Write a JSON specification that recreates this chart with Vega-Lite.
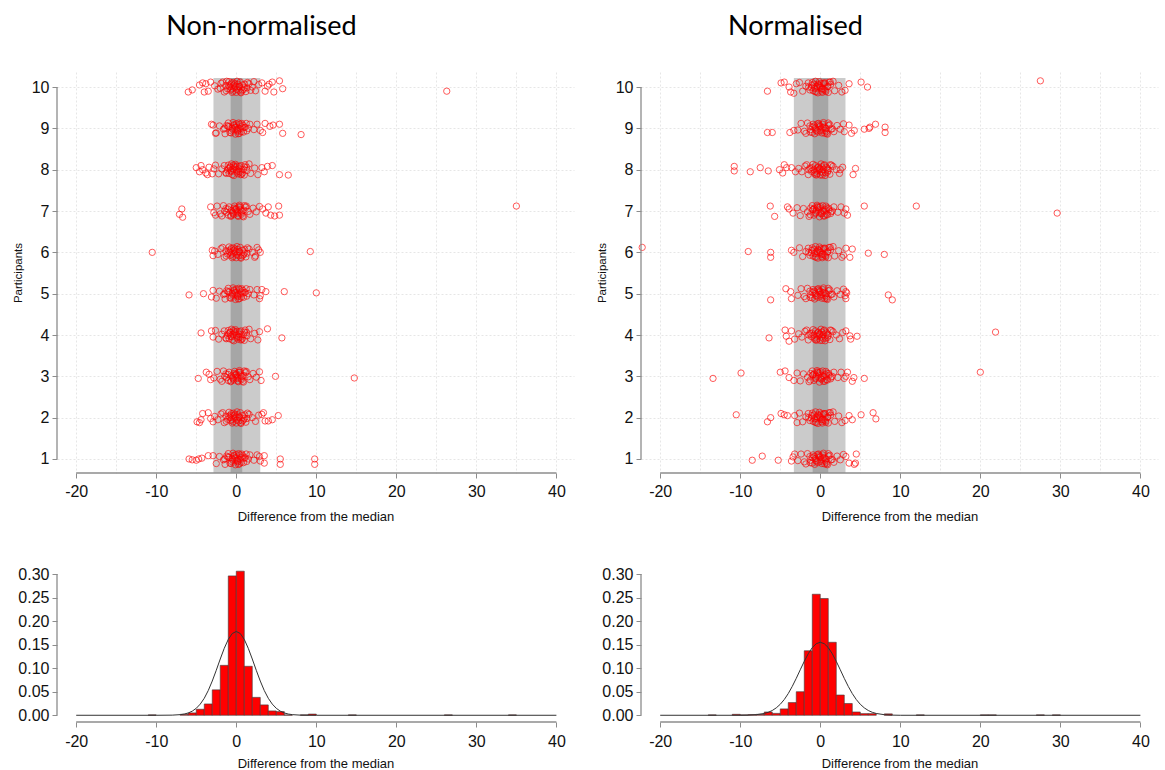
{
  "$schema": "https://vega.github.io/schema/vega-lite/v6.json",
  "background": "white",
  "padding": {"left": 12, "top": 13, "right": 5, "bottom": 0},
  "columns": 2,
  "spacing": {"row": 43, "column": 22},
  "align": "each",
  "config": {
    "view": {"stroke": null},
    "locale": {"number": {"decimal": ".", "thousands": ",", "grouping": [3], "currency": ["$", ""], "minus": "-"}},
    "axis": {
      "domain": false,
      "labelFont": "Liberation Sans",
      "labelFontSize": 16,
      "labelColor": "#111111",
      "labelPadding": 3,
      "labelOverlap": false,
      "tickColor": "#8c8c8c",
      "tickSize": 5,
      "titleFont": "Liberation Sans",
      "titleFontSize": 13,
      "titleFontWeight": "normal",
      "titleColor": "#111111"
    },
    "title": {"font": "Lato", "fontSize": 27, "fontWeight": "normal", "color": "#000000"}
  },
  "datasets": {
    "bandsNon": [{"lo": -2.85, "hi": 3.0, "shade": "outer"}, {"lo": -0.7, "hi": 0.75, "shade": "inner"}],
    "bandsNorm": [{"lo": -3.3, "hi": 3.15, "shade": "outer"}, {"lo": -0.95, "hi": 1.0, "shade": "inner"}],
    "nonnorm": [
      {"x":-0.1,"y":10.02},{"x":0.3,"y":9.92},{"x":-0.6,"y":10.1},{"x":0.8,"y":10.05},{"x":-1.1,"y":9.96},{"x":1.2,"y":9.89},{"x":0,"y":9.87},{"x":-0.4,"y":9.9},{"x":0.5,"y":10.12},{"x":-0.9,"y":10.13},{"x":1.6,"y":10.08},{"x":-1.5,"y":9.88},{"x":0.2,"y":10.07},{"x":-0.2,"y":9.98},{"x":1,"y":9.98},{"x":-1.3,"y":10.04},{"x":2,"y":10},{"x":-1.9,"y":10.09},{"x":0.6,"y":9.86},{"x":-0.7,"y":9.93},{"x":2.4,"y":9.91},{"x":-2.3,"y":9.95},{"x":0.1,"y":10.14},{"x":-0.3,"y":10.05},{"x":1.4,"y":10.11},{"x":-1.7,"y":10.12},{"x":2.8,"y":10.06},{"x":-2.7,"y":10.03},{"x":0.9,"y":9.94},{"x":-0.8,"y":10},{"x":0.4,"y":10.01},{"x":-0.5,"y":9.87},
      {"x":-6,"y":9.88},{"x":-5.5,"y":9.93},{"x":-4.6,"y":10.05},{"x":-4.2,"y":10.1},{"x":-3.8,"y":10.08},{"x":-3.5,"y":9.9},{"x":-3.2,"y":10.12},{"x":-4,"y":9.88},{"x":3.2,"y":10.1},{"x":3.6,"y":9.9},{"x":4.1,"y":10.07},{"x":4.5,"y":10.12},{"x":5.4,"y":10.15},{"x":5.8,"y":9.96},{"x":4.7,"y":9.88},{"x":3.9,"y":10.02},{"x":26.3,"y":9.9},{"x":-2,"y":9.97},{"x":1.8,"y":9.92},{"x":-1.2,"y":10.14},{"x":2.2,"y":10.13},
      {"x":-0.15,"y":10.08},{"x":0.35,"y":10.02},{"x":-0.55,"y":9.96},{"x":0.75,"y":9.92},{"x":-0.95,"y":10.03},{"x":1.05,"y":10.07},{"x":0.05,"y":9.94},{"x":-0.35,"y":10.11},{"x":0.55,"y":9.88},{"x":-1.25,"y":9.91},{"x":1.35,"y":9.98},{"x":-0.75,"y":10.06},

      {"x":0.1,"y":8.97},{"x":-0.3,"y":9.09},{"x":0.7,"y":9.12},{"x":-0.8,"y":8.9},{"x":1.1,"y":9.03},{"x":-1.2,"y":9.07},{"x":0.4,"y":8.88},{"x":-0.5,"y":9},{"x":0,"y":9.11},{"x":0.9,"y":8.91},{"x":-1.6,"y":8.98},{"x":1.7,"y":9.1},{"x":-0.1,"y":8.86},{"x":0.6,"y":9.04},{"x":-1,"y":9.13},{"x":1.3,"y":8.94},{"x":-2.1,"y":9.06},{"x":2.2,"y":8.97},{"x":-0.6,"y":8.94},{"x":0.3,"y":9.13},{"x":-2.5,"y":8.89},{"x":2.6,"y":9.1},{"x":0.2,"y":8.93},{"x":-0.2,"y":9.03},{"x":1.5,"y":9},{"x":-1.4,"y":8.87},{"x":-2.9,"y":9.08},{"x":3,"y":8.95},{"x":0.8,"y":9.08},{"x":-0.9,"y":9.04},{"x":0.5,"y":8.99},{"x":-0.4,"y":9.14},
      {"x":-3.1,"y":9.1},{"x":3.6,"y":9.12},{"x":4.6,"y":9.08},{"x":5.4,"y":9.1},{"x":5.8,"y":8.88},{"x":8.1,"y":8.85},{"x":4.2,"y":9.05},{"x":3.3,"y":8.9},{"x":-2.6,"y":8.88},
      {"x":0.15,"y":8.95},{"x":-0.25,"y":9.07},{"x":0.45,"y":9.1},{"x":-0.65,"y":8.89},{"x":0.95,"y":9.02},{"x":-1.05,"y":9.05},{"x":-0.05,"y":9.03},{"x":0.65,"y":8.92},{"x":-0.45,"y":8.97},{"x":1.25,"y":9.12},{"x":-1.45,"y":9},{"x":0.25,"y":8.87},

      {"x":-0.2,"y":8.05},{"x":0.2,"y":7.9},{"x":-0.7,"y":7.97},{"x":0.6,"y":8.1},{"x":-1,"y":8.11},{"x":1,"y":7.87},{"x":0,"y":8},{"x":-0.5,"y":7.88},{"x":0.4,"y":8.08},{"x":-1.3,"y":7.93},{"x":1.3,"y":8.06},{"x":-0.1,"y":8.13},{"x":0.9,"y":8.01},{"x":-0.8,"y":8.07},{"x":1.8,"y":7.91},{"x":-1.8,"y":8.02},{"x":0.3,"y":7.96},{"x":-0.3,"y":7.86},{"x":0.7,"y":7.89},{"x":-0.6,"y":8.14},{"x":2.3,"y":8.04},{"x":-2.2,"y":7.9},{"x":1.1,"y":8.12},{"x":-1.1,"y":7.99},{"x":2.7,"y":7.88},{"x":-2.6,"y":8.11},{"x":0.1,"y":8.09},{"x":-0.4,"y":8.02},{"x":1.6,"y":8.14},{"x":-1.5,"y":8.1},{"x":0.5,"y":7.94},{"x":-0.9,"y":7.91},
      {"x":-5,"y":8.05},{"x":-4.6,"y":7.95},{"x":-4.2,"y":8},{"x":-3.8,"y":7.92},{"x":-3.4,"y":8.06},{"x":-3,"y":7.9},{"x":-4.4,"y":8.1},{"x":-3.6,"y":7.88},{"x":3.2,"y":8.05},{"x":3.9,"y":8.08},{"x":4.5,"y":8.1},{"x":5.4,"y":7.88},{"x":6.5,"y":7.87},{"x":3.5,"y":7.95},{"x":-2.8,"y":8.02},
      {"x":-0.15,"y":8.08},{"x":0.35,"y":8.02},{"x":-0.55,"y":7.96},{"x":0.75,"y":7.92},{"x":-0.95,"y":8.03},{"x":1.05,"y":8.07},{"x":0.05,"y":7.94},{"x":-0.35,"y":8.11},{"x":0.55,"y":7.88},{"x":-1.25,"y":7.91},{"x":1.35,"y":7.98},{"x":-0.75,"y":8.06},

      {"x":0,"y":7.06},{"x":-0.4,"y":6.94},{"x":0.5,"y":7.03},{"x":-0.9,"y":7.1},{"x":0.8,"y":6.88},{"x":-1.2,"y":6.97},{"x":1.2,"y":7.09},{"x":0.2,"y":6.89},{"x":-0.2,"y":7.12},{"x":-0.6,"y":7.01},{"x":0.6,"y":6.95},{"x":1.5,"y":6.99},{"x":-1.6,"y":7.13},{"x":0.3,"y":7.1},{"x":-0.7,"y":6.87},{"x":1,"y":7.13},{"x":-1,"y":6.9},{"x":2.1,"y":7.07},{"x":-2,"y":6.93},{"x":0.1,"y":6.98},{"x":-0.1,"y":7.04},{"x":0.9,"y":6.86},{"x":-1.3,"y":7.06},{"x":2.5,"y":6.98},{"x":-2.4,"y":7.12},{"x":1.7,"y":6.92},{"x":-1.8,"y":6.88},{"x":0.4,"y":7.14},{"x":-0.3,"y":6.91},{"x":2.9,"y":7.11},{"x":-2.8,"y":6.96},{"x":0.7,"y":7},
      {"x":-6.8,"y":7.05},{"x":-7.1,"y":6.92},{"x":-6.7,"y":6.85},{"x":-3.2,"y":7.1},{"x":-2.6,"y":6.9},{"x":3.3,"y":7.05},{"x":3.7,"y":6.95},{"x":4,"y":7.1},{"x":4.3,"y":6.9},{"x":5.3,"y":7.12},{"x":5.4,"y":6.9},{"x":4.8,"y":6.88},{"x":35,"y":7.12},
      {"x":0.15,"y":6.95},{"x":-0.25,"y":7.07},{"x":0.45,"y":7.1},{"x":-0.65,"y":6.89},{"x":0.95,"y":7.02},{"x":-1.05,"y":7.05},{"x":-0.05,"y":7.03},{"x":0.65,"y":6.92},{"x":-0.45,"y":6.97},{"x":1.25,"y":7.12},{"x":-1.45,"y":7},{"x":0.25,"y":6.87},

      {"x":-0.1,"y":6.02},{"x":0.3,"y":5.92},{"x":-0.6,"y":6.1},{"x":0.8,"y":6.05},{"x":-1.1,"y":5.96},{"x":1.2,"y":5.89},{"x":0,"y":5.87},{"x":-0.4,"y":5.9},{"x":0.5,"y":6.12},{"x":-0.9,"y":6.13},{"x":1.6,"y":6.08},{"x":-1.5,"y":5.88},{"x":0.2,"y":6.07},{"x":-0.2,"y":5.98},{"x":1,"y":5.98},{"x":-1.3,"y":6.04},{"x":2,"y":6},{"x":-1.9,"y":6.09},{"x":0.6,"y":5.86},{"x":-0.7,"y":5.93},{"x":2.4,"y":5.91},{"x":-2.3,"y":5.95},{"x":0.1,"y":6.14},{"x":-0.3,"y":6.05},{"x":1.4,"y":6.11},{"x":-1.7,"y":6.12},{"x":2.8,"y":6.06},{"x":-2.7,"y":6.03},{"x":0.9,"y":5.94},{"x":-0.8,"y":6},{"x":0.4,"y":6.01},{"x":-0.5,"y":5.87},
      {"x":-10.5,"y":6},{"x":-3,"y":6.05},{"x":-2.9,"y":5.92},{"x":2.6,"y":6.12},{"x":3,"y":6},{"x":2.3,"y":5.88},{"x":9.25,"y":6.02},
      {"x":-0.15,"y":6.08},{"x":0.35,"y":6.02},{"x":-0.55,"y":5.96},{"x":0.75,"y":5.92},{"x":-0.95,"y":6.03},{"x":1.05,"y":6.07},{"x":0.05,"y":5.94},{"x":-0.35,"y":6.11},{"x":0.55,"y":5.88},{"x":-1.25,"y":5.91},{"x":1.35,"y":5.98},{"x":-0.75,"y":6.06},

      {"x":0.1,"y":4.97},{"x":-0.3,"y":5.09},{"x":0.7,"y":5.12},{"x":-0.8,"y":4.9},{"x":1.1,"y":5.03},{"x":-1.2,"y":5.07},{"x":0.4,"y":4.88},{"x":-0.5,"y":5},{"x":0,"y":5.11},{"x":0.9,"y":4.91},{"x":-1.6,"y":4.98},{"x":1.7,"y":5.1},{"x":-0.1,"y":4.86},{"x":0.6,"y":5.04},{"x":-1,"y":5.13},{"x":1.3,"y":4.94},{"x":-2.1,"y":5.06},{"x":2.2,"y":4.97},{"x":-0.6,"y":4.94},{"x":0.3,"y":5.13},{"x":-2.5,"y":4.89},{"x":2.6,"y":5.1},{"x":0.2,"y":4.93},{"x":-0.2,"y":5.03},{"x":1.5,"y":5},{"x":-1.4,"y":4.87},{"x":-2.9,"y":5.08},{"x":3,"y":4.95},{"x":0.8,"y":5.08},{"x":-0.9,"y":5.04},{"x":0.5,"y":4.99},{"x":-0.4,"y":5.14},
      {"x":-5.9,"y":4.97},{"x":-4.1,"y":5},{"x":-3.1,"y":4.92},{"x":3.2,"y":5.1},{"x":3.7,"y":5.05},{"x":6,"y":5.05},{"x":10,"y":5.02},{"x":2.9,"y":4.88},
      {"x":0.15,"y":4.95},{"x":-0.25,"y":5.07},{"x":0.45,"y":5.1},{"x":-0.65,"y":4.89},{"x":0.95,"y":5.02},{"x":-1.05,"y":5.05},{"x":-0.05,"y":5.03},{"x":0.65,"y":4.92},{"x":-0.45,"y":4.97},{"x":1.25,"y":5.12},{"x":-1.45,"y":5},{"x":0.25,"y":4.87},

      {"x":-0.2,"y":4.05},{"x":0.2,"y":3.9},{"x":-0.7,"y":3.97},{"x":0.6,"y":4.1},{"x":-1,"y":4.11},{"x":1,"y":3.87},{"x":0,"y":4},{"x":-0.5,"y":3.88},{"x":0.4,"y":4.08},{"x":-1.3,"y":3.93},{"x":1.3,"y":4.06},{"x":-0.1,"y":4.13},{"x":0.9,"y":4.01},{"x":-0.8,"y":4.07},{"x":1.8,"y":3.91},{"x":-1.8,"y":4.02},{"x":0.3,"y":3.96},{"x":-0.3,"y":3.86},{"x":0.7,"y":3.89},{"x":-0.6,"y":4.14},{"x":2.3,"y":4.04},{"x":-2.2,"y":3.9},{"x":1.1,"y":4.12},{"x":-1.1,"y":3.99},{"x":2.7,"y":3.88},{"x":-2.6,"y":4.11},{"x":0.1,"y":4.09},{"x":-0.4,"y":4.02},{"x":1.6,"y":4.14},{"x":-1.5,"y":4.1},{"x":0.5,"y":3.94},{"x":-0.9,"y":3.91},
      {"x":-4.4,"y":4.05},{"x":-2.9,"y":3.95},{"x":3.9,"y":4.15},{"x":5.7,"y":3.93},{"x":2.9,"y":4.08},{"x":-3.1,"y":4.1},
      {"x":-0.15,"y":4.08},{"x":0.35,"y":4.02},{"x":-0.55,"y":3.96},{"x":0.75,"y":3.92},{"x":-0.95,"y":4.03},{"x":1.05,"y":4.07},{"x":0.05,"y":3.94},{"x":-0.35,"y":4.11},{"x":0.55,"y":3.88},{"x":-1.25,"y":3.91},{"x":1.35,"y":3.98},{"x":-0.75,"y":4.06},

      {"x":0,"y":3.06},{"x":-0.4,"y":2.94},{"x":0.5,"y":3.03},{"x":-0.9,"y":3.1},{"x":0.8,"y":2.88},{"x":-1.2,"y":2.97},{"x":1.2,"y":3.09},{"x":0.2,"y":2.89},{"x":-0.2,"y":3.12},{"x":-0.6,"y":3.01},{"x":0.6,"y":2.95},{"x":1.5,"y":2.99},{"x":-1.6,"y":3.13},{"x":0.3,"y":3.1},{"x":-0.7,"y":2.87},{"x":1,"y":3.13},{"x":-1,"y":2.9},{"x":2.1,"y":3.07},{"x":-2,"y":2.93},{"x":0.1,"y":2.98},{"x":-0.1,"y":3.04},{"x":0.9,"y":2.86},{"x":-1.3,"y":3.06},{"x":2.5,"y":2.98},{"x":-2.4,"y":3.12},{"x":1.7,"y":2.92},{"x":-1.8,"y":2.88},{"x":0.4,"y":3.14},{"x":-0.3,"y":2.91},{"x":2.9,"y":3.11},{"x":-2.8,"y":2.96},{"x":0.7,"y":3},
      {"x":-4.75,"y":2.95},{"x":-3.75,"y":3.1},{"x":-3.2,"y":2.92},{"x":-3.4,"y":3.05},{"x":3.1,"y":2.9},{"x":4.9,"y":3},{"x":14.75,"y":2.96},
      {"x":0.15,"y":2.95},{"x":-0.25,"y":3.07},{"x":0.45,"y":3.1},{"x":-0.65,"y":2.89},{"x":0.95,"y":3.02},{"x":-1.05,"y":3.05},{"x":-0.05,"y":3.03},{"x":0.65,"y":2.92},{"x":-0.45,"y":2.97},{"x":1.25,"y":3.12},{"x":-1.45,"y":3},{"x":0.25,"y":2.87},

      {"x":-0.1,"y":2.02},{"x":0.3,"y":1.92},{"x":-0.6,"y":2.1},{"x":0.8,"y":2.05},{"x":-1.1,"y":1.96},{"x":1.2,"y":1.89},{"x":0,"y":1.87},{"x":-0.4,"y":1.9},{"x":0.5,"y":2.12},{"x":-0.9,"y":2.13},{"x":1.6,"y":2.08},{"x":-1.5,"y":1.88},{"x":0.2,"y":2.07},{"x":-0.2,"y":1.98},{"x":1,"y":1.98},{"x":-1.3,"y":2.04},{"x":2,"y":2},{"x":-1.9,"y":2.09},{"x":0.6,"y":1.86},{"x":-0.7,"y":1.93},{"x":2.4,"y":1.91},{"x":-2.3,"y":1.95},{"x":0.1,"y":2.14},{"x":-0.3,"y":2.05},{"x":1.4,"y":2.11},{"x":-1.7,"y":2.12},{"x":2.8,"y":2.06},{"x":-2.7,"y":2.03},{"x":0.9,"y":1.94},{"x":-0.8,"y":2},{"x":0.4,"y":2.01},{"x":-0.5,"y":1.87},
      {"x":-4.9,"y":1.9},{"x":-4.4,"y":1.95},{"x":-4.6,"y":1.88},{"x":-4.2,"y":2.1},{"x":-3.5,"y":2.12},{"x":-3.2,"y":1.98},{"x":3.2,"y":2.08},{"x":3.6,"y":1.92},{"x":4,"y":1.92},{"x":4.5,"y":1.95},{"x":5.25,"y":2.05},{"x":3.4,"y":2.12},{"x":-2.9,"y":1.9},
      {"x":-0.15,"y":2.08},{"x":0.35,"y":2.02},{"x":-0.55,"y":1.96},{"x":0.75,"y":1.92},{"x":-0.95,"y":2.03},{"x":1.05,"y":2.07},{"x":0.05,"y":1.94},{"x":-0.35,"y":2.11},{"x":0.55,"y":1.88},{"x":-1.25,"y":1.91},{"x":1.35,"y":1.98},{"x":-0.75,"y":2.06},

      {"x":0.1,"y":0.97},{"x":-0.3,"y":1.09},{"x":0.7,"y":1.12},{"x":-0.8,"y":0.9},{"x":1.1,"y":1.03},{"x":-1.2,"y":1.07},{"x":0.4,"y":0.88},{"x":-0.5,"y":1},{"x":0,"y":1.11},{"x":0.9,"y":0.91},{"x":-1.6,"y":0.98},{"x":1.7,"y":1.1},{"x":-0.1,"y":0.86},{"x":0.6,"y":1.04},{"x":-1,"y":1.13},{"x":1.3,"y":0.94},{"x":-2.1,"y":1.06},{"x":2.2,"y":0.97},{"x":-0.6,"y":0.94},{"x":0.3,"y":1.13},{"x":-2.5,"y":0.89},{"x":2.6,"y":1.1},{"x":0.2,"y":0.93},{"x":-0.2,"y":1.03},{"x":1.5,"y":1},{"x":-1.4,"y":0.87},{"x":-2.9,"y":1.08},{"x":3,"y":0.95},{"x":0.8,"y":1.08},{"x":-0.9,"y":1.04},{"x":0.5,"y":0.99},{"x":-0.4,"y":1.14},
      {"x":-5.9,"y":1},{"x":-5.5,"y":0.98},{"x":-5,"y":0.97},{"x":-4.7,"y":1},{"x":-4.3,"y":1.02},{"x":-3.5,"y":1.08},{"x":3.5,"y":1.08},{"x":3.5,"y":0.9},{"x":5.5,"y":1},{"x":5.5,"y":0.87},{"x":9.8,"y":1},{"x":9.8,"y":0.87},{"x":2.9,"y":1.06},
      {"x":0.15,"y":0.95},{"x":-0.25,"y":1.07},{"x":0.45,"y":1.1},{"x":-0.65,"y":0.89},{"x":0.95,"y":1.02},{"x":-1.05,"y":1.05},{"x":-0.05,"y":1.03},{"x":0.65,"y":0.92},{"x":-0.45,"y":0.97},{"x":1.25,"y":1.12},{"x":-1.45,"y":1},{"x":0.25,"y":0.87}
    ],
    "norm": [
      {"x":-0.2,"y":10.05},{"x":0.2,"y":9.9},{"x":-0.7,"y":9.97},{"x":0.6,"y":10.1},{"x":-1,"y":10.11},{"x":1,"y":9.87},{"x":0,"y":10},{"x":-0.5,"y":9.88},{"x":0.4,"y":10.08},{"x":-1.3,"y":9.93},{"x":1.3,"y":10.06},{"x":-0.1,"y":10.13},{"x":0.9,"y":10.01},{"x":-0.8,"y":10.07},{"x":1.8,"y":9.91},{"x":-1.8,"y":10.02},{"x":0.3,"y":9.96},{"x":-0.3,"y":9.86},{"x":0.7,"y":9.89},{"x":-0.6,"y":10.14},{"x":2.3,"y":10.04},{"x":-2.2,"y":9.9},{"x":1.1,"y":10.12},{"x":-1.1,"y":9.99},{"x":2.7,"y":9.88},{"x":-2.6,"y":10.11},{"x":0.1,"y":10.09},{"x":-0.4,"y":10.02},{"x":1.6,"y":10.14},{"x":-1.5,"y":10.1},{"x":0.5,"y":9.94},{"x":-0.9,"y":9.91},
      {"x":-6.6,"y":9.9},{"x":-4.9,"y":10.1},{"x":-4.5,"y":10.12},{"x":-3.9,"y":10},{"x":-3.7,"y":9.88},{"x":-3.3,"y":9.85},{"x":3.6,"y":10.08},{"x":5.1,"y":10.12},{"x":5.9,"y":10},{"x":27.5,"y":10.15},{"x":-3,"y":10.08},{"x":3.1,"y":9.92},
      {"x":0.15,"y":9.95},{"x":-0.25,"y":10.07},{"x":0.45,"y":10.1},{"x":-0.65,"y":9.89},{"x":0.95,"y":10.02},{"x":-1.05,"y":10.05},{"x":-0.05,"y":10.03},{"x":0.65,"y":9.92},{"x":-0.45,"y":9.97},{"x":1.25,"y":10.12},{"x":-1.45,"y":10},{"x":0.25,"y":9.87},

      {"x":0,"y":9.06},{"x":-0.4,"y":8.94},{"x":0.5,"y":9.03},{"x":-0.9,"y":9.1},{"x":0.8,"y":8.88},{"x":-1.2,"y":8.97},{"x":1.2,"y":9.09},{"x":0.2,"y":8.89},{"x":-0.2,"y":9.12},{"x":-0.6,"y":9.01},{"x":0.6,"y":8.95},{"x":1.5,"y":8.99},{"x":-1.6,"y":9.13},{"x":0.3,"y":9.1},{"x":-0.7,"y":8.87},{"x":1,"y":9.13},{"x":-1,"y":8.9},{"x":2.1,"y":9.07},{"x":-2,"y":8.93},{"x":0.1,"y":8.98},{"x":-0.1,"y":9.04},{"x":0.9,"y":8.86},{"x":-1.3,"y":9.06},{"x":2.5,"y":8.98},{"x":-2.4,"y":9.12},{"x":1.7,"y":8.92},{"x":-1.8,"y":8.88},{"x":0.4,"y":9.14},{"x":-0.3,"y":8.91},{"x":2.9,"y":9.11},{"x":-2.8,"y":8.96},{"x":0.7,"y":9},
      {"x":-6.6,"y":8.9},{"x":-6,"y":8.9},{"x":-3.8,"y":8.9},{"x":-3.3,"y":8.95},{"x":3.6,"y":9.08},{"x":3,"y":8.92},{"x":3.9,"y":8.88},{"x":4.25,"y":8.95},{"x":5.5,"y":8.98},{"x":6.1,"y":9},{"x":6.2,"y":9.03},{"x":6.9,"y":9.1},{"x":8.1,"y":9.03},{"x":8.1,"y":8.9},
      {"x":-0.15,"y":9.08},{"x":0.35,"y":9.02},{"x":-0.55,"y":8.96},{"x":0.75,"y":8.92},{"x":-0.95,"y":9.03},{"x":1.05,"y":9.07},{"x":0.05,"y":8.94},{"x":-0.35,"y":9.11},{"x":0.55,"y":8.88},{"x":-1.25,"y":8.91},{"x":1.35,"y":8.98},{"x":-0.75,"y":9.06},

      {"x":-0.1,"y":8.02},{"x":0.3,"y":7.92},{"x":-0.6,"y":8.1},{"x":0.8,"y":8.05},{"x":-1.1,"y":7.96},{"x":1.2,"y":7.89},{"x":0,"y":7.87},{"x":-0.4,"y":7.9},{"x":0.5,"y":8.12},{"x":-0.9,"y":8.13},{"x":1.6,"y":8.08},{"x":-1.5,"y":7.88},{"x":0.2,"y":8.07},{"x":-0.2,"y":7.98},{"x":1,"y":7.98},{"x":-1.3,"y":8.04},{"x":2,"y":8},{"x":-1.9,"y":8.09},{"x":0.6,"y":7.86},{"x":-0.7,"y":7.93},{"x":2.4,"y":7.91},{"x":-2.3,"y":7.95},{"x":0.1,"y":8.14},{"x":-0.3,"y":8.05},{"x":1.4,"y":8.11},{"x":-1.7,"y":8.12},{"x":2.8,"y":8.06},{"x":-2.7,"y":8.03},{"x":0.9,"y":7.94},{"x":-0.8,"y":8},{"x":0.4,"y":8.01},{"x":-0.5,"y":7.87},
      {"x":-10.75,"y":8.08},{"x":-10.75,"y":7.97},{"x":-8.75,"y":7.95},{"x":-7.5,"y":8.05},{"x":-6.5,"y":7.97},{"x":-5.1,"y":8},{"x":-4.7,"y":7.92},{"x":-4.5,"y":8.12},{"x":-4.2,"y":8.05},{"x":-3.6,"y":8.05},{"x":4.4,"y":8.03},{"x":4.1,"y":7.88},{"x":2.5,"y":8},{"x":-3.1,"y":7.95},
      {"x":0.15,"y":7.95},{"x":-0.25,"y":8.07},{"x":0.45,"y":8.1},{"x":-0.65,"y":7.89},{"x":0.95,"y":8.02},{"x":-1.05,"y":8.05},{"x":-0.05,"y":8.03},{"x":0.65,"y":7.92},{"x":-0.45,"y":7.97},{"x":1.25,"y":8.12},{"x":-1.45,"y":8},{"x":0.25,"y":7.87},

      {"x":0.1,"y":6.97},{"x":-0.3,"y":7.09},{"x":0.7,"y":7.12},{"x":-0.8,"y":6.9},{"x":1.1,"y":7.03},{"x":-1.2,"y":7.07},{"x":0.4,"y":6.88},{"x":-0.5,"y":7},{"x":0,"y":7.11},{"x":0.9,"y":6.91},{"x":-1.6,"y":6.98},{"x":1.7,"y":7.1},{"x":-0.1,"y":6.86},{"x":0.6,"y":7.04},{"x":-1,"y":7.13},{"x":1.3,"y":6.94},{"x":-2.1,"y":7.06},{"x":2.2,"y":6.97},{"x":-0.6,"y":6.94},{"x":0.3,"y":7.13},{"x":-2.5,"y":6.89},{"x":2.6,"y":7.1},{"x":0.2,"y":6.93},{"x":-0.2,"y":7.03},{"x":1.5,"y":7},{"x":-1.4,"y":6.87},{"x":-2.9,"y":7.08},{"x":3,"y":6.95},{"x":0.8,"y":7.08},{"x":-0.9,"y":7.04},{"x":0.5,"y":6.99},{"x":-0.4,"y":7.14},
      {"x":-6.25,"y":7.12},{"x":-5.7,"y":6.87},{"x":-4.1,"y":7.1},{"x":-3.9,"y":7.05},{"x":-3.4,"y":6.95},{"x":3.2,"y":7.05},{"x":3.4,"y":6.9},{"x":5.5,"y":7.12},{"x":12,"y":7.12},{"x":29.6,"y":6.95},
      {"x":-0.15,"y":7.08},{"x":0.35,"y":7.02},{"x":-0.55,"y":6.96},{"x":0.75,"y":6.92},{"x":-0.95,"y":7.03},{"x":1.05,"y":7.07},{"x":0.05,"y":6.94},{"x":-0.35,"y":7.11},{"x":0.55,"y":6.88},{"x":-1.25,"y":6.91},{"x":1.35,"y":6.98},{"x":-0.75,"y":7.06},

      {"x":-0.2,"y":6.05},{"x":0.2,"y":5.9},{"x":-0.7,"y":5.97},{"x":0.6,"y":6.1},{"x":-1,"y":6.11},{"x":1,"y":5.87},{"x":0,"y":6},{"x":-0.5,"y":5.88},{"x":0.4,"y":6.08},{"x":-1.3,"y":5.93},{"x":1.3,"y":6.06},{"x":-0.1,"y":6.13},{"x":0.9,"y":6.01},{"x":-0.8,"y":6.07},{"x":1.8,"y":5.91},{"x":-1.8,"y":6.02},{"x":0.3,"y":5.96},{"x":-0.3,"y":5.86},{"x":0.7,"y":5.89},{"x":-0.6,"y":6.14},{"x":2.3,"y":6.04},{"x":-2.2,"y":5.9},{"x":1.1,"y":6.12},{"x":-1.1,"y":5.99},{"x":2.7,"y":5.88},{"x":-2.6,"y":6.11},{"x":0.1,"y":6.09},{"x":-0.4,"y":6.02},{"x":1.6,"y":6.14},{"x":-1.5,"y":6.1},{"x":0.5,"y":5.94},{"x":-0.9,"y":5.91},
      {"x":-22.25,"y":6.12},{"x":-9,"y":6.02},{"x":-6.2,"y":6},{"x":-6.2,"y":5.88},{"x":-3.6,"y":6.05},{"x":-3.3,"y":6},{"x":3.2,"y":6.1},{"x":3.7,"y":5.88},{"x":4,"y":6.08},{"x":6,"y":5.98},{"x":8,"y":5.95},{"x":2.9,"y":5.93},
      {"x":0.15,"y":5.95},{"x":-0.25,"y":6.07},{"x":0.45,"y":6.1},{"x":-0.65,"y":5.89},{"x":0.95,"y":6.02},{"x":-1.05,"y":6.05},{"x":-0.05,"y":6.03},{"x":0.65,"y":5.92},{"x":-0.45,"y":5.97},{"x":1.25,"y":6.12},{"x":-1.45,"y":6},{"x":0.25,"y":5.87},

      {"x":0,"y":5.06},{"x":-0.4,"y":4.94},{"x":0.5,"y":5.03},{"x":-0.9,"y":5.1},{"x":0.8,"y":4.88},{"x":-1.2,"y":4.97},{"x":1.2,"y":5.09},{"x":0.2,"y":4.89},{"x":-0.2,"y":5.12},{"x":-0.6,"y":5.01},{"x":0.6,"y":4.95},{"x":1.5,"y":4.99},{"x":-1.6,"y":5.13},{"x":0.3,"y":5.1},{"x":-0.7,"y":4.87},{"x":1,"y":5.13},{"x":-1,"y":4.9},{"x":2.1,"y":5.07},{"x":-2,"y":4.93},{"x":0.1,"y":4.98},{"x":-0.1,"y":5.04},{"x":0.9,"y":4.86},{"x":-1.3,"y":5.06},{"x":2.5,"y":4.98},{"x":-2.4,"y":5.12},{"x":1.7,"y":4.92},{"x":-1.8,"y":4.88},{"x":0.4,"y":5.14},{"x":-0.3,"y":4.91},{"x":2.9,"y":5.11},{"x":-2.8,"y":4.96},{"x":0.7,"y":5},
      {"x":-6.2,"y":4.85},{"x":-4.3,"y":5.12},{"x":-3.6,"y":4.88},{"x":-3.7,"y":5.05},{"x":3.2,"y":5.05},{"x":3.1,"y":4.95},{"x":3.2,"y":4.88},{"x":3.3,"y":5.02},{"x":8.5,"y":4.97},{"x":9,"y":4.85},
      {"x":-0.15,"y":5.08},{"x":0.35,"y":5.02},{"x":-0.55,"y":4.96},{"x":0.75,"y":4.92},{"x":-0.95,"y":5.03},{"x":1.05,"y":5.07},{"x":0.05,"y":4.94},{"x":-0.35,"y":5.11},{"x":0.55,"y":4.88},{"x":-1.25,"y":4.91},{"x":1.35,"y":4.98},{"x":-0.75,"y":5.06},

      {"x":-0.1,"y":4.02},{"x":0.3,"y":3.92},{"x":-0.6,"y":4.1},{"x":0.8,"y":4.05},{"x":-1.1,"y":3.96},{"x":1.2,"y":3.89},{"x":0,"y":3.87},{"x":-0.4,"y":3.9},{"x":0.5,"y":4.12},{"x":-0.9,"y":4.13},{"x":1.6,"y":4.08},{"x":-1.5,"y":3.88},{"x":0.2,"y":4.07},{"x":-0.2,"y":3.98},{"x":1,"y":3.98},{"x":-1.3,"y":4.04},{"x":2,"y":4},{"x":-1.9,"y":4.09},{"x":0.6,"y":3.86},{"x":-0.7,"y":3.93},{"x":2.4,"y":3.91},{"x":-2.3,"y":3.95},{"x":0.1,"y":4.14},{"x":-0.3,"y":4.05},{"x":1.4,"y":4.11},{"x":-1.7,"y":4.12},{"x":2.8,"y":4.06},{"x":-2.7,"y":4.03},{"x":0.9,"y":3.94},{"x":-0.8,"y":4},{"x":0.4,"y":4.01},{"x":-0.5,"y":3.87},
      {"x":-6.4,"y":3.93},{"x":-4.4,"y":4.12},{"x":-4.25,"y":3.97},{"x":-3.9,"y":3.85},{"x":-3.6,"y":4.1},{"x":-3.2,"y":3.9},{"x":3.7,"y":3.98},{"x":3.8,"y":3.9},{"x":4.6,"y":3.97},{"x":3.2,"y":4.1},{"x":21.9,"y":4.07},
      {"x":0.15,"y":3.95},{"x":-0.25,"y":4.07},{"x":0.45,"y":4.1},{"x":-0.65,"y":3.89},{"x":0.95,"y":4.02},{"x":-1.05,"y":4.05},{"x":-0.05,"y":4.03},{"x":0.65,"y":3.92},{"x":-0.45,"y":3.97},{"x":1.25,"y":4.12},{"x":-1.45,"y":4},{"x":0.25,"y":3.87},

      {"x":0.1,"y":2.97},{"x":-0.3,"y":3.09},{"x":0.7,"y":3.12},{"x":-0.8,"y":2.9},{"x":1.1,"y":3.03},{"x":-1.2,"y":3.07},{"x":0.4,"y":2.88},{"x":-0.5,"y":3},{"x":0,"y":3.11},{"x":0.9,"y":2.91},{"x":-1.6,"y":2.98},{"x":1.7,"y":3.1},{"x":-0.1,"y":2.86},{"x":0.6,"y":3.04},{"x":-1,"y":3.13},{"x":1.3,"y":2.94},{"x":-2.1,"y":3.06},{"x":2.2,"y":2.97},{"x":-0.6,"y":2.94},{"x":0.3,"y":3.13},{"x":-2.5,"y":2.89},{"x":2.6,"y":3.1},{"x":0.2,"y":2.93},{"x":-0.2,"y":3.03},{"x":1.5,"y":3},{"x":-1.4,"y":2.87},{"x":-2.9,"y":3.08},{"x":3,"y":2.95},{"x":0.8,"y":3.08},{"x":-0.9,"y":3.04},{"x":0.5,"y":2.99},{"x":-0.4,"y":3.14},
      {"x":-13.4,"y":2.95},{"x":-9.9,"y":3.08},{"x":-5,"y":3.1},{"x":-4.4,"y":3.13},{"x":-3.9,"y":2.97},{"x":-3.3,"y":2.9},{"x":3.2,"y":3},{"x":4,"y":2.88},{"x":4.2,"y":2.97},{"x":5.5,"y":2.95},{"x":3.4,"y":3.1},{"x":20,"y":3.1},
      {"x":-0.15,"y":3.08},{"x":0.35,"y":3.02},{"x":-0.55,"y":2.96},{"x":0.75,"y":2.92},{"x":-0.95,"y":3.03},{"x":1.05,"y":3.07},{"x":0.05,"y":2.94},{"x":-0.35,"y":3.11},{"x":0.55,"y":2.88},{"x":-1.25,"y":2.91},{"x":1.35,"y":2.98},{"x":-0.75,"y":3.06},

      {"x":-0.2,"y":2.05},{"x":0.2,"y":1.9},{"x":-0.7,"y":1.97},{"x":0.6,"y":2.1},{"x":-1,"y":2.11},{"x":1,"y":1.87},{"x":0,"y":2},{"x":-0.5,"y":1.88},{"x":0.4,"y":2.08},{"x":-1.3,"y":1.93},{"x":1.3,"y":2.06},{"x":-0.1,"y":2.13},{"x":0.9,"y":2.01},{"x":-0.8,"y":2.07},{"x":1.8,"y":1.91},{"x":-1.8,"y":2.02},{"x":0.3,"y":1.96},{"x":-0.3,"y":1.86},{"x":0.7,"y":1.89},{"x":-0.6,"y":2.14},{"x":2.3,"y":2.04},{"x":-2.2,"y":1.9},{"x":1.1,"y":2.12},{"x":-1.1,"y":1.99},{"x":2.7,"y":1.88},{"x":-2.6,"y":2.11},{"x":0.1,"y":2.09},{"x":-0.4,"y":2.02},{"x":1.6,"y":2.14},{"x":-1.5,"y":2.1},{"x":0.5,"y":1.94},{"x":-0.9,"y":1.91},
      {"x":-10.5,"y":2.07},{"x":-6.6,"y":1.9},{"x":-6.2,"y":2},{"x":-4.9,"y":2.1},{"x":-4.5,"y":2.07},{"x":-4.1,"y":2.05},{"x":-3.2,"y":2.05},{"x":-2.9,"y":1.88},{"x":3.6,"y":2.05},{"x":4,"y":1.95},{"x":5.1,"y":2.07},{"x":6.6,"y":2.12},{"x":6.95,"y":1.97},{"x":3.1,"y":1.93},
      {"x":0.15,"y":1.95},{"x":-0.25,"y":2.07},{"x":0.45,"y":2.1},{"x":-0.65,"y":1.89},{"x":0.95,"y":2.02},{"x":-1.05,"y":2.05},{"x":-0.05,"y":2.03},{"x":0.65,"y":1.92},{"x":-0.45,"y":1.97},{"x":1.25,"y":2.12},{"x":-1.45,"y":2},{"x":0.25,"y":1.87},

      {"x":0,"y":1.06},{"x":-0.4,"y":0.94},{"x":0.5,"y":1.03},{"x":-0.9,"y":1.1},{"x":0.8,"y":0.88},{"x":-1.2,"y":0.97},{"x":1.2,"y":1.09},{"x":0.2,"y":0.89},{"x":-0.2,"y":1.12},{"x":-0.6,"y":1.01},{"x":0.6,"y":0.95},{"x":1.5,"y":0.99},{"x":-1.6,"y":1.13},{"x":0.3,"y":1.1},{"x":-0.7,"y":0.87},{"x":1,"y":1.13},{"x":-1,"y":0.9},{"x":2.1,"y":1.07},{"x":-2,"y":0.93},{"x":0.1,"y":0.98},{"x":-0.1,"y":1.04},{"x":0.9,"y":0.86},{"x":-1.3,"y":1.06},{"x":2.5,"y":0.98},{"x":-2.4,"y":1.12},{"x":1.7,"y":0.92},{"x":-1.8,"y":0.88},{"x":0.4,"y":1.14},{"x":-0.3,"y":0.91},{"x":2.9,"y":1.11},{"x":-2.8,"y":0.96},{"x":0.7,"y":1},
      {"x":-8.5,"y":0.97},{"x":-7.25,"y":1.07},{"x":-5.25,"y":0.97},{"x":-3.6,"y":0.95},{"x":-3.4,"y":1.05},{"x":-3.2,"y":1.12},{"x":3.6,"y":0.9},{"x":4.25,"y":0.87},{"x":4.5,"y":1.12},{"x":4.4,"y":0.9},{"x":3.2,"y":1.06},
      {"x":-0.15,"y":1.08},{"x":0.35,"y":1.02},{"x":-0.55,"y":0.96},{"x":0.75,"y":0.92},{"x":-0.95,"y":1.03},{"x":1.05,"y":1.07},{"x":0.05,"y":0.94},{"x":-0.35,"y":1.11},{"x":0.55,"y":0.88},{"x":-1.25,"y":0.91},{"x":1.35,"y":0.98},{"x":-0.75,"y":1.06}
    ],
    "histNon": [
      {"lo":-11,"hi":-10,"density":0.0008},{"lo":-7,"hi":-6,"density":0.002},{"lo":-6,"hi":-5,"density":0.005},{"lo":-5,"hi":-4,"density":0.0128},{"lo":-4,"hi":-3,"density":0.024},{"lo":-3,"hi":-2,"density":0.054},{"lo":-2,"hi":-1,"density":0.106},{"lo":-1,"hi":0,"density":0.296},{"lo":0,"hi":1,"density":0.306},{"lo":1,"hi":2,"density":0.104},{"lo":2,"hi":3,"density":0.038},{"lo":3,"hi":4,"density":0.022},{"lo":4,"hi":5,"density":0.0092},{"lo":5,"hi":6,"density":0.0078},{"lo":6,"hi":7,"density":0.0008},{"lo":8,"hi":9,"density":0.0008},{"lo":9,"hi":10,"density":0.0025},{"lo":14,"hi":15,"density":0.0008},{"lo":26,"hi":27,"density":0.0008},{"lo":34,"hi":35,"density":0.0008}
    ],
    "histNorm": [
      {"lo":-14,"hi":-13,"density":0.0008},{"lo":-11,"hi":-10,"density":0.002},{"lo":-10,"hi":-9,"density":0.0008},{"lo":-9,"hi":-8,"density":0.0015},{"lo":-8,"hi":-7,"density":0.002},{"lo":-7,"hi":-6,"density":0.007},{"lo":-6,"hi":-5,"density":0.004},{"lo":-5,"hi":-4,"density":0.0135},{"lo":-4,"hi":-3,"density":0.027},{"lo":-3,"hi":-2,"density":0.05},{"lo":-2,"hi":-1,"density":0.137},{"lo":-1,"hi":0,"density":0.257},{"lo":0,"hi":1,"density":0.248},{"lo":1,"hi":2,"density":0.155},{"lo":2,"hi":3,"density":0.043},{"lo":3,"hi":4,"density":0.025},{"lo":4,"hi":5,"density":0.007},{"lo":5,"hi":6,"density":0.0035},{"lo":6,"hi":7,"density":0.0035},{"lo":8,"hi":9,"density":0.003},{"lo":12,"hi":13,"density":0.0008},{"lo":20,"hi":21,"density":0.0008},{"lo":21,"hi":22,"density":0.0008},{"lo":27,"hi":28,"density":0.0008},{"lo":29,"hi":30,"density":0.0008}
    ],
    "curveNon": [
      {"x":-20,"f":0},{"x":-10,"f":0},{"x":-8,"f":0.0003},{"x":-7,"f":0.0013},{"x":-6.5,"f":0.0026},{"x":-6,"f":0.0049},{"x":-5.5,"f":0.0087},{"x":-5,"f":0.0148},{"x":-4.5,"f":0.0237},{"x":-4,"f":0.0361},{"x":-3.5,"f":0.0525},{"x":-3,"f":0.0727},{"x":-2.5,"f":0.0955},{"x":-2,"f":0.1195},{"x":-1.5,"f":0.1422},{"x":-1,"f":0.1611},{"x":-0.5,"f":0.1736},{"x":0,"f":0.178},
      {"x":0.5,"f":0.1736},{"x":1,"f":0.1611},{"x":1.5,"f":0.1422},{"x":2,"f":0.1195},{"x":2.5,"f":0.0955},{"x":3,"f":0.0727},{"x":3.5,"f":0.0525},{"x":4,"f":0.0361},{"x":4.5,"f":0.0237},{"x":5,"f":0.0148},{"x":5.5,"f":0.0087},{"x":6,"f":0.0049},{"x":6.5,"f":0.0026},{"x":7,"f":0.0013},{"x":8,"f":0.0003},{"x":10,"f":0},{"x":40,"f":0}
    ],
    "curveNorm": [
      {"x":-20,"f":0},{"x":-10,"f":0},{"x":-9,"f":0.0003},{"x":-8,"f":0.0012},{"x":-7,"f":0.0038},{"x":-6.5,"f":0.0063},{"x":-6,"f":0.0101},{"x":-5.5,"f":0.0157},{"x":-5,"f":0.0233},{"x":-4.5,"f":0.0334},{"x":-4,"f":0.0461},{"x":-3.5,"f":0.0613},{"x":-3,"f":0.0784},{"x":-2.5,"f":0.0966},{"x":-2,"f":0.1145},{"x":-1.5,"f":0.1307},{"x":-1,"f":0.1437},{"x":-0.5,"f":0.152},{"x":0,"f":0.155},
      {"x":0.5,"f":0.152},{"x":1,"f":0.1437},{"x":1.5,"f":0.1307},{"x":2,"f":0.1145},{"x":2.5,"f":0.0966},{"x":3,"f":0.0784},{"x":3.5,"f":0.0613},{"x":4,"f":0.0461},{"x":4.5,"f":0.0334},{"x":5,"f":0.0233},{"x":5.5,"f":0.0157},{"x":6,"f":0.0101},{"x":6.5,"f":0.0063},{"x":7,"f":0.0038},{"x":8,"f":0.0012},{"x":9,"f":0.0003},{"x":10,"f":0},{"x":40,"f":0}
    ]
  },
  "concat": [
    {
      "width": 517,
      "height": 401,
      "title": {"text": "Non-normalised", "anchor": "middle", "frame": "group", "dx": -54, "offset": 31},
      "layer": [
        {
          "data": {"name": "bandsNon"},
          "mark": {"type": "rect"},
          "encoding": {
            "x": {"field": "lo", "type": "quantitative", "scale": {"domain": [-22.4, 42.2], "nice": false, "zero": false},
              "axis": {"title": "Difference from the median", "values": [-20,-15,-10,-5,0,5,10,15,20,25,30,35,40],
                "labelExpr": "datum.value % 10 === 0 ? datum.label : ''",
                "tickOpacity": {"condition": {"test": "datum.value % 10 !== 0", "value": 0}, "value": 1},
                "grid": true, "gridColor": "#e6e6e6", "gridDash": [2, 2], "labelPadding": 5, "titlePadding": 11, "labelOverlap": false}},
            "x2": {"field": "hi"},
            "y": {"datum": 0.661, "type": "quantitative", "scale": {"domain": [0.661, 10.364], "nice": false, "zero": false},
              "axis": {"title": "Participants", "values": [1,2,3,4,5,6,7,8,9,10], "format": "d", "grid": true, "gridColor": "#e6e6e6", "gridDash": [2, 2], "titlePadding": 8, "titleFontSize": 11.5, "labelOverlap": false}},
            "y2": {"datum": 10.22},
            "color": {"field": "shade", "type": "nominal", "scale": {"domain": ["outer", "inner"], "range": ["#cbcbcb", "#a6a6a6"]}, "legend": null}
          }
        },
        {
          "data": {"name": "nonnorm"},
          "mark": {"type": "point", "shape": "circle", "filled": false, "color": "#ff0000", "opacity": 0.65, "size": 40, "strokeWidth": 1},
          "encoding": {"x": {"field": "x", "type": "quantitative"}, "y": {"field": "y", "type": "quantitative"}}
        },
        {
          "data": {"values": [{}]},
          "mark": {"type": "rule", "color": "#8c8c8c", "strokeWidth": 1.3},
          "encoding": {"x": {"datum": -20}, "x2": {"datum": 40}, "y": {"datum": 0.661}}
        },
        {
          "data": {"values": [{}]},
          "mark": {"type": "rule", "color": "#8c8c8c", "strokeWidth": 1.3},
          "encoding": {"x": {"datum": -22.4}, "y": {"datum": 1}, "y2": {"datum": 10}}
        }
      ]
    },
    {
      "width": 517,
      "height": 401,
      "title": {"text": "Normalised", "anchor": "middle", "frame": "group", "dx": -104, "offset": 31},
      "layer": [
        {
          "data": {"name": "bandsNorm"},
          "mark": {"type": "rect"},
          "encoding": {
            "x": {"field": "lo", "type": "quantitative", "scale": {"domain": [-22.4, 42.2], "nice": false, "zero": false},
              "axis": {"title": "Difference from the median", "values": [-20,-15,-10,-5,0,5,10,15,20,25,30,35,40],
                "labelExpr": "datum.value % 10 === 0 ? datum.label : ''",
                "tickOpacity": {"condition": {"test": "datum.value % 10 !== 0", "value": 0}, "value": 1},
                "grid": true, "gridColor": "#e6e6e6", "gridDash": [2, 2], "labelPadding": 5, "titlePadding": 11, "labelOverlap": false}},
            "x2": {"field": "hi"},
            "y": {"datum": 0.661, "type": "quantitative", "scale": {"domain": [0.661, 10.364], "nice": false, "zero": false},
              "axis": {"title": "Participants", "values": [1,2,3,4,5,6,7,8,9,10], "format": "d", "grid": true, "gridColor": "#e6e6e6", "gridDash": [2, 2], "titlePadding": 8, "titleFontSize": 11.5, "labelOverlap": false}},
            "y2": {"datum": 10.22},
            "color": {"field": "shade", "type": "nominal", "scale": {"domain": ["outer", "inner"], "range": ["#cbcbcb", "#a6a6a6"]}, "legend": null}
          }
        },
        {
          "data": {"name": "norm"},
          "mark": {"type": "point", "shape": "circle", "filled": false, "color": "#ff0000", "opacity": 0.65, "size": 40, "strokeWidth": 1},
          "encoding": {"x": {"field": "x", "type": "quantitative"}, "y": {"field": "y", "type": "quantitative"}}
        },
        {
          "data": {"values": [{}]},
          "mark": {"type": "rule", "color": "#8c8c8c", "strokeWidth": 1.3},
          "encoding": {"x": {"datum": -20}, "x2": {"datum": 40}, "y": {"datum": 0.661}}
        },
        {
          "data": {"values": [{}]},
          "mark": {"type": "rule", "color": "#8c8c8c", "strokeWidth": 1.3},
          "encoding": {"x": {"datum": -22.4}, "y": {"datum": 1}, "y2": {"datum": 10}}
        }
      ]
    },
    {
      "width": 517,
      "height": 148,
      "layer": [
        {
          "data": {"name": "histNon"},
          "mark": {"type": "rect", "color": "#ff0000", "stroke": "#3a3a3a", "strokeWidth": 0.6},
          "encoding": {
            "x": {"field": "lo", "type": "quantitative", "scale": {"domain": [-22.4, 42.2], "nice": false, "zero": false},
              "axis": {"title": "Difference from the median", "values": [-20,-10,0,10,20,30,40], "format": "d", "grid": false, "labelPadding": 6, "titlePadding": 8, "labelOverlap": false}},
            "x2": {"field": "hi"},
            "y": {"field": "density", "type": "quantitative", "scale": {"domain": [-0.0143, 0.3], "nice": false, "zero": false},
              "axis": {"title": null, "values": [0,0.05,0.1,0.15,0.2,0.25,0.3], "tickCount": 20, "format": ".2f", "grid": false, "labelOverlap": false, "labelBound": false}},
            "y2": {"datum": 0}
          }
        },
        {
          "data": {"name": "curveNon"},
          "mark": {"type": "line", "color": "#333333", "strokeWidth": 1},
          "encoding": {"x": {"field": "x", "type": "quantitative"}, "y": {"field": "f", "type": "quantitative"}}
        },
        {
          "data": {"values": [{}]},
          "mark": {"type": "rule", "color": "#8c8c8c", "strokeWidth": 1.3},
          "encoding": {"x": {"datum": -20}, "x2": {"datum": 40}, "y": {"datum": -0.0143}}
        },
        {
          "data": {"values": [{}]},
          "mark": {"type": "rule", "color": "#8c8c8c", "strokeWidth": 1.3},
          "encoding": {"x": {"datum": -22.4}, "y": {"datum": 0}, "y2": {"datum": 0.3}}
        }
      ]
    },
    {
      "width": 517,
      "height": 148,
      "layer": [
        {
          "data": {"name": "histNorm"},
          "mark": {"type": "rect", "color": "#ff0000", "stroke": "#3a3a3a", "strokeWidth": 0.6},
          "encoding": {
            "x": {"field": "lo", "type": "quantitative", "scale": {"domain": [-22.4, 42.2], "nice": false, "zero": false},
              "axis": {"title": "Difference from the median", "values": [-20,-10,0,10,20,30,40], "format": "d", "grid": false, "labelPadding": 6, "titlePadding": 8, "labelOverlap": false}},
            "x2": {"field": "hi"},
            "y": {"field": "density", "type": "quantitative", "scale": {"domain": [-0.0143, 0.3], "nice": false, "zero": false},
              "axis": {"title": null, "values": [0,0.05,0.1,0.15,0.2,0.25,0.3], "tickCount": 20, "format": ".2f", "grid": false, "labelOverlap": false, "labelBound": false}},
            "y2": {"datum": 0}
          }
        },
        {
          "data": {"name": "curveNorm"},
          "mark": {"type": "line", "color": "#333333", "strokeWidth": 1},
          "encoding": {"x": {"field": "x", "type": "quantitative"}, "y": {"field": "f", "type": "quantitative"}}
        },
        {
          "data": {"values": [{}]},
          "mark": {"type": "rule", "color": "#8c8c8c", "strokeWidth": 1.3},
          "encoding": {"x": {"datum": -20}, "x2": {"datum": 40}, "y": {"datum": -0.0143}}
        },
        {
          "data": {"values": [{}]},
          "mark": {"type": "rule", "color": "#8c8c8c", "strokeWidth": 1.3},
          "encoding": {"x": {"datum": -22.4}, "y": {"datum": 0}, "y2": {"datum": 0.3}}
        }
      ]
    }
  ]
}
